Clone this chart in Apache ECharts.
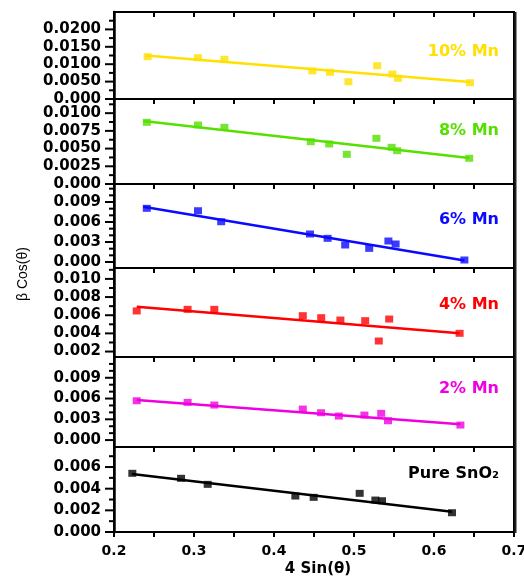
<!DOCTYPE html>
<html>
<head>
<meta charset="utf-8">
<script src="https://cdn.jsdelivr.net/npm/echarts@6/dist/echarts.min.js"></script>
<style>
  html, body { margin: 0; padding: 0; background: #fff; }
  #main { width: 524px; height: 576px; }
</style>
</head>
<body>
<div id="main"></div>
<script>
// x axis
const xLabelValues = [0.2, 0.3, 0.4, 0.5, 0.6, 0.7]
const xTickValues = [0.2, 0.25, 0.3, 0.35, 0.4, 0.45, 0.5, 0.55, 0.6, 0.65, 0.7]

// measured points [4 Sin(theta), beta Cos(theta)] and fitted line end points
const mn10Points = [[0.242, 0.01216], [0.305, 0.01187], [0.338, 0.01141], [0.448, 0.00805], [0.470, 0.00767], [0.493, 0.00497], [0.529, 0.00957], [0.548, 0.00718], [0.555, 0.00595], [0.645, 0.00468]]
const mn10Fit = [[0.240, 0.0125], [0.645, 0.0049]]
const mn8Points = [[0.241, 0.00871], [0.305, 0.00833], [0.338, 0.0080], [0.446, 0.00597], [0.469, 0.00565], [0.491, 0.00419], [0.528, 0.00645], [0.547, 0.00518], [0.554, 0.0047], [0.644, 0.00363]]
const mn8Fit = [[0.2366, 0.0089], [0.644, 0.00367]]
const mn6Points = [[0.241, 0.00805], [0.305, 0.00769], [0.334, 0.00604], [0.445, 0.0042], [0.467, 0.00355], [0.489, 0.00255], [0.519, 0.00205], [0.543, 0.00315], [0.552, 0.0027], [0.638, 0.0003]]
const mn6Fit = [[0.2366, 0.00829], [0.638, 0.00022]]
const mn4Points = [[0.2284, 0.00647], [0.292, 0.00665], [0.3254, 0.00665], [0.436, 0.00595], [0.459, 0.00573], [0.483, 0.00547], [0.514, 0.0054], [0.531, 0.00316], [0.544, 0.00558], [0.632, 0.00401]]
const mn4Fit = [[0.2284, 0.00694], [0.632, 0.00401]]
const mn2Points = [[0.2284, 0.00568], [0.292, 0.00545], [0.3254, 0.00506], [0.436, 0.00448], [0.4588, 0.00395], [0.481, 0.00347], [0.513, 0.00361], [0.534, 0.00386], [0.5425, 0.00279], [0.633, 0.00217]]
const mn2Fit = [[0.2284, 0.00578], [0.633, 0.00227]]
const purePoints = [[0.2229, 0.00542], [0.2838, 0.00496], [0.3171, 0.0044], [0.4267, 0.00332], [0.4496, 0.0032], [0.5071, 0.00357], [0.5267, 0.00295], [0.535, 0.00289], [0.6225, 0.00178]]
const pureFit = [[0.2225, 0.00536], [0.6225, 0.00187]]

// y tick labels and minor ticks per panel
const mn10YLabels = [0, 0.005, 0.01, 0.015, 0.02]
const mn10YMinor = [0.0025, 0.0075, 0.0125, 0.0175, 0.0225]
const mn8YLabels = [0, 0.0025, 0.005, 0.0075, 0.01]
const mn8YMinor = [0.00125, 0.00375, 0.00625, 0.00875, 0.01125]
const mn6YLabels = [0, 0.003, 0.006, 0.009]
const mn6YMinor = [0.001, 0.002, 0.004, 0.005, 0.007, 0.008, 0.01, 0.011]
const mn4YLabels = [0.002, 0.004, 0.006, 0.008, 0.01]
const mn4YMinor = [0.003, 0.005, 0.007, 0.009, 0.011]
const mn2YLabels = [0, 0.003, 0.006, 0.009]
const mn2YMinor = [0.001, 0.002, 0.004, 0.005, 0.007, 0.008, 0.01, 0.011]
const pureYLabels = [0, 0.002, 0.004, 0.006]
const pureYMinor = [0.001, 0.003, 0.005, 0.007]

const panels = [
  { name: '10% Mn', color: '#FFE000', points: mn10Points, fit: mn10Fit, labels: mn10YLabels, minor: mn10YMinor, dec: 4, min: 0, max: 0.025, top: 12, height: 87, textY: 52 },
  { name: '8% Mn', color: '#55E000', points: mn8Points, fit: mn8Fit, labels: mn8YLabels, minor: mn8YMinor, dec: 4, min: 0, max: 0.012, top: 99, height: 85, textY: 131 },
  { name: '6% Mn', color: '#0A0AFF', points: mn6Points, fit: mn6Fit, labels: mn6YLabels, minor: mn6YMinor, dec: 3, min: -0.0009, max: 0.0117, top: 184, height: 84, textY: 220 },
  { name: '4% Mn', color: '#FF0000', points: mn4Points, fit: mn4Fit, labels: mn4YLabels, minor: mn4YMinor, dec: 3, min: 0.0014, max: 0.0112, top: 268, height: 89, textY: 305 },
  { name: '2% Mn', color: '#F000E0', points: mn2Points, fit: mn2Fit, labels: mn2YLabels, minor: mn2YMinor, dec: 3, min: -0.001, max: 0.012, top: 357, height: 90, textY: 389 },
  { name: 'Pure SnO₂', color: '#000000', points: purePoints, fit: pureFit, labels: pureYLabels, minor: pureYMinor, dec: 3, min: 0, max: 0.00785, top: 447, height: 85, textY: 474 }
]

const plotLeft = 114
const plotRight = 514

const grid = []
const xAxis = []
const yAxis = []
const series = []
const graphic = []

panels.forEach((p, i) => {
  grid.push({
    left: plotLeft, right: 524 - plotRight, top: p.top, height: p.height,
    outerBoundsMode: 'none', containLabel: false,
    show: true, borderColor: '#000', borderWidth: 2, backgroundColor: 'transparent'
  })
  xAxis.push({
    type: 'value', gridIndex: i, position: 'top', min: 0.2, max: 0.7, interval: 0.05,
    axisLine: { show: true, onZero: false, lineStyle: { color: '#000', width: 2 } },
    axisTick: { show: false },
    axisLabel: { show: false },
    splitLine: { show: false }
  })
  yAxis.push({
    type: 'value', gridIndex: i, position: 'left', min: p.min, max: p.max,
    axisLine: { show: true, onZero: false, lineStyle: { color: '#000', width: 2.5 } },
    axisTick: { show: false },
    axisLabel: {
      show: true, customValues: p.labels, margin: 13,
      color: '#000', fontFamily: 'DejaVu Sans', fontWeight: 'bold', fontSize: 15,
      formatter: v => (Math.abs(v) < 1e-9 ? '0.000' : v.toFixed(p.dec))
    },
    splitLine: { show: false }
  })
  series.push({
    type: 'line', xAxisIndex: i, yAxisIndex: i, data: p.fit,
    symbol: 'none', lineStyle: { color: p.color, width: 2.5 }
  })
  series.push({
    type: 'scatter', xAxisIndex: i, yAxisIndex: i, data: p.points,
    symbol: 'rect', symbolSize: [8, 7], itemStyle: { color: p.color }
  })
  graphic.push({
    type: 'text', x: 499, y: p.textY,
    style: {
      text: p.name, textAlign: 'right', textVerticalAlign: 'middle',
      font: 'bold 16px "DejaVu Sans"', fill: p.color
    }
  })
})

// bottom x axis with labels
xAxis.push({
  type: 'value', gridIndex: 5, position: 'bottom', min: 0.2, max: 0.7, interval: 0.05,
  axisLine: { show: true, onZero: false, lineStyle: { color: '#000', width: 2 } },
  axisTick: { show: false },
  axisLabel: {
    show: true, margin: 12,
    color: '#000', fontFamily: 'DejaVu Sans', fontWeight: 'bold', fontSize: 14,
    formatter: v => (xLabelValues.some(t => Math.abs(t - v) < 1e-6) ? v.toFixed(1) : '')
  },
  splitLine: { show: false }
})

graphic.push({
  type: 'text', x: 318, y: 569,
  style: { text: '4 Sin(θ)', textAlign: 'center', textVerticalAlign: 'middle', font: 'bold 15px "DejaVu Sans"', fill: '#000' }
})
graphic.push({
  type: 'text', x: 23, y: 274, rotation: Math.PI / 2,
  style: { text: 'β Cos(θ)', textAlign: 'center', textVerticalAlign: 'middle', font: '14px "Liberation Sans"', fill: '#000' }
})

let chartDom = document.getElementById('main')
let myChart = echarts.init(chartDom)
let option = {
  animation: false,
  backgroundColor: '#fff',
  grid: grid,
  xAxis: xAxis,
  yAxis: yAxis,
  series: series,
  graphic: graphic
}
option && myChart.setOption(option)

// tick marks, placed through the axes' own scales
function tick(x1, y1, x2, y2) {
  return { type: 'line', silent: true, z: 10, shape: { x1, y1, x2, y2 }, style: { stroke: '#000', lineWidth: 2 } }
}
const ticks = []
panels.forEach((p, i) => {
  p.labels.forEach(v => {
    const y = myChart.convertToPixel({ yAxisIndex: i }, v)
    ticks.push(tick(plotLeft - 9, y, plotLeft, y))
  })
  p.minor.forEach(v => {
    const y = myChart.convertToPixel({ yAxisIndex: i }, v)
    ticks.push(tick(plotLeft - 5, y, plotLeft, y))
  })
  xTickValues.forEach(v => {
    const x = myChart.convertToPixel({ xAxisIndex: i }, v)
    ticks.push(tick(x, p.top, x, p.top + 5))
  })
})
const last = panels[panels.length - 1]
xTickValues.forEach(v => {
  const x = myChart.convertToPixel({ xAxisIndex: 6 }, v)
  ticks.push(tick(x, last.top + last.height, x, last.top + last.height + 5))
})
// heavier right frame edge
ticks.push({ type: 'line', silent: true, z: 10, shape: { x1: plotRight + 1.5, y1: panels[0].top, x2: plotRight + 1.5, y2: last.top + last.height + 1 }, style: { stroke: '#222', lineWidth: 2 } })

myChart.setOption({ graphic: graphic.concat(ticks) })
</script>
</body>
</html>
